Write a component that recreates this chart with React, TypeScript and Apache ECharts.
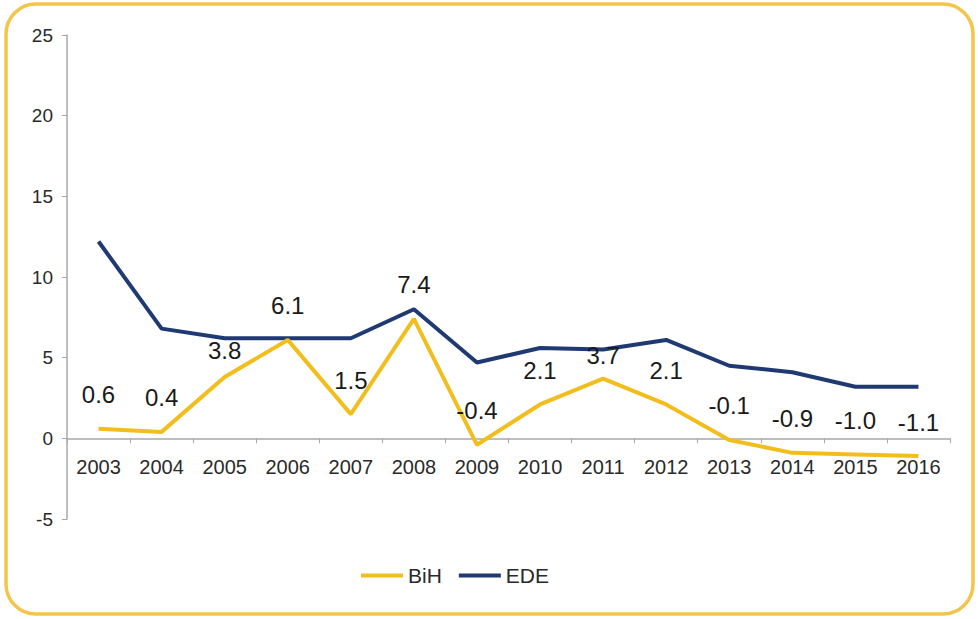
import React, { useEffect, useRef } from "react";
import * as echarts from "echarts";

const years = ["2003", "2004", "2005", "2006", "2007", "2008", "2009", "2010", "2011", "2012", "2013", "2014", "2015", "2016"];
const bih = [0.6, 0.4, 3.8, 6.1, 1.5, 7.4, -0.4, 2.1, 3.7, 2.1, -0.1, -0.9, -1.0, -1.1];
const ede = [12.2, 6.8, 6.2, 6.2, 6.2, 8.0, 4.7, 5.6, 5.5, 6.1, 4.5, 4.1, 3.2, 3.2];
const yTicks = { min: -5, max: 25, interval: 5 };
// per-point label lift (style only)
const labelDistance = [22, 22, 14, 22, 22, 22, 22, 22, 11, 22, 22, 22, 22, 22];

const FONT = "'Liberation Sans', Arial, sans-serif";
const GRID_TOP = 35;
const GRID_BOTTOM = 100;
const HEIGHT = 619;

export default function App() {
  const ref = useRef<HTMLDivElement>(null);
  useEffect(() => {
    document.body.style.margin = "0";
    const chart = echarts.init(ref.current!, null, { renderer: "svg" });
    const plotH = HEIGHT - GRID_TOP - GRID_BOTTOM;
    const zeroOffset = -(plotH * (0 - yTicks.min)) / (yTicks.max - yTicks.min);
    chart.setOption({
      animation: false,
      backgroundColor: "#ffffff",
      textStyle: { fontFamily: FONT },
      grid: { left: 67, right: 28, top: GRID_TOP, bottom: GRID_BOTTOM, containLabel: false },
      legend: {
        bottom: 28,
        left: 356,
        icon: "rect",
        itemWidth: 42,
        itemHeight: 4,
        itemGap: 17,
        textStyle: { fontSize: 21, color: "#2a2a2a", fontFamily: FONT },
        data: ["BiH", "EDE"],
      },
      xAxis: {
        type: "category",
        data: years,
        boundaryGap: true,
        offset: zeroOffset,
        axisLine: { onZero: false, lineStyle: { color: "#a8a8a8", width: 1.5 } },
        axisTick: { show: true, length: 5, inside: false, lineStyle: { color: "#a8a8a8" } },
        axisLabel: { fontSize: 20, color: "#2a2a2a", margin: 19, fontFamily: FONT },
        splitLine: { show: false },
      },
      yAxis: {
        type: "value",
        min: yTicks.min,
        max: yTicks.max,
        interval: yTicks.interval,
        axisLine: { show: true, lineStyle: { color: "#a8a8a8", width: 1.5 } },
        axisTick: { show: true, length: 5, lineStyle: { color: "#a8a8a8" } },
        axisLabel: { fontSize: 19, color: "#2a2a2a", margin: 14, fontFamily: FONT },
        splitLine: { show: false },
      },
      series: [
        {
          name: "BiH",
          type: "line",
          data: bih.map((v, i) => ({ value: v, label: { distance: labelDistance[i] } })),
          showSymbol: true,
          symbol: "circle",
          symbolSize: 0.1,
          lineStyle: { color: "#F2BE1E", width: 4 },
          itemStyle: { color: "#F2BE1E" },
          label: {
            show: true,
            position: "top",
            fontSize: 24,
            color: "#1a1a1a",
            fontFamily: FONT,
            formatter: (p: any) => Number(p.value).toFixed(1),
          },
          z: 3,
        },
        {
          name: "EDE",
          type: "line",
          data: ede,
          showSymbol: false,
          symbol: "none",
          lineStyle: { color: "#1F3A73", width: 4 },
          itemStyle: { color: "#1F3A73" },
          z: 2,
        },
      ],
      graphic: [
        {
          type: "rect",
          shape: { x: 6, y: 4, width: 967, height: 610, r: 30 },
          style: { fill: "none", stroke: "#F3C54A", lineWidth: 3.5 },
          silent: true,
          z: 100,
        },
      ],
    });
    return () => chart.dispose();
  }, []);
  return <div ref={ref} style={{ width: 978, height: 619 }} />;
}
